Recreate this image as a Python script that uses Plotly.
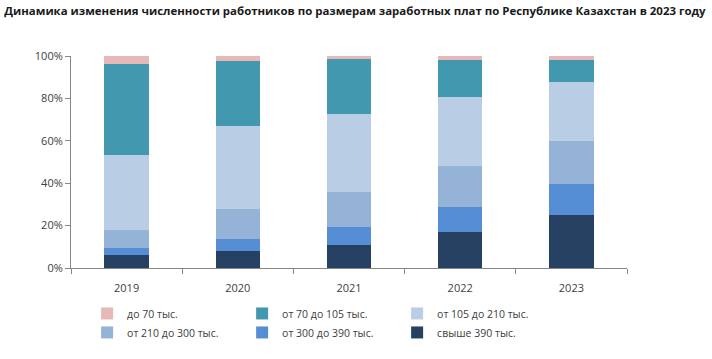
import plotly.graph_objects as go

years = ["2019", "2020", "2021", "2022", "2023"]
series_names = ["свыше 390 тыс.", "от 300 до 390 тыс.", "от 210 до 300 тыс.",
                "от 105 до 210 тыс.", "от 70 до 105 тыс.", "до 70 тыс."]
over_390 = [6.1, 7.8, 10.7, 17.1, 25.0]
from_300_390 = [3.2, 6.0, 8.8, 11.8, 14.4]
from_210_300 = [8.8, 14.1, 16.5, 19.3, 20.4]
from_105_210 = [35.3, 39.0, 36.7, 32.5, 28.0]
from_70_105 = [42.7, 30.9, 25.9, 17.4, 10.3]
under_70 = [3.9, 2.2, 1.4, 1.9, 1.9]
colors = ["#254061", "#558ED5", "#95B3D7", "#B9CDE5", "#4198AF", "#E6B9B8"]

values = [over_390, from_300_390, from_210_300, from_105_210, from_70_105, under_70]

fig = go.Figure()
for name, vals, col in zip(series_names, values, colors):
    fig.add_trace(go.Bar(
        x=years, y=[v / 100 for v in vals], name=name,
        marker=dict(color=col, line=dict(width=0)),
    ))

font = "Open Sans, Liberation Sans, sans-serif"
fig.update_layout(
    width=712, height=359,
    barmode="stack", bargap=0.6,
    plot_bgcolor="white", paper_bgcolor="white",
    margin=dict(l=71, r=85, t=56, b=91, autoexpand=False),
    font=dict(family=font, size=11, color="#404040"),
    title=dict(
        text="<b>Динамика изменения численности работников по размерам заработных плат по Республике Казахстан в 2023 году</b>",
        x=0.006, xanchor="left", y=0.98, yanchor="top",
        font=dict(family=font, size=11.45, color="#1a1a1a"),
    ),
    showlegend=True,
    legend=dict(
        orientation="h", traceorder="reversed",
        x=0.029, xanchor="left", y=-0.146, yanchor="top",
        entrywidth=110, itemwidth=30, font=dict(size=10.5, color="#404040"),
    ),
    xaxis=dict(
        showline=True, linecolor="#868686", linewidth=1,
        ticks="outside", tickson="boundaries", ticklen=5, tickcolor="#868686",
        showgrid=False, tickfont=dict(size=11, color="#404040"),
        ticklabelstandoff=10,
    ),
    yaxis=dict(
        range=[0, 1], tickformat=".0%", dtick=0.2,
        showline=True, linecolor="#868686", linewidth=1,
        ticks="outside", ticklen=5, tickcolor="#868686",
        showgrid=False, zeroline=False, tickfont=dict(size=11, color="#404040"),
    ),
)

fig.write_html("out.html", config={"displayModeBar": False},
               post_script="document.body.style.margin='0';")
